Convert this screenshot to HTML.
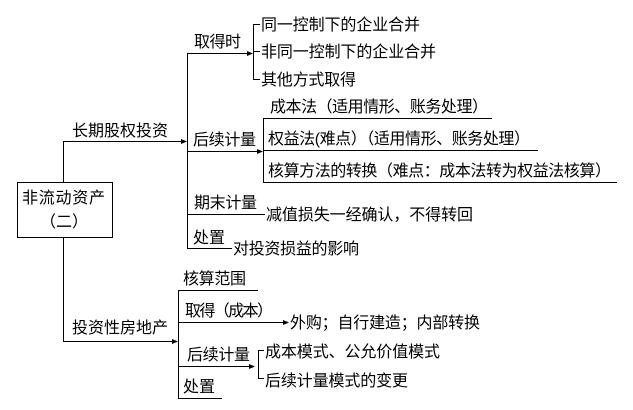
<!DOCTYPE html>
<html><head><meta charset="utf-8"><style>
html,body{margin:0;padding:0;background:#fff;}
svg{display:block;}
text{font-family:"Liberation Sans","Noto Sans CJK SC","WenQuanYi Zen Hei",sans-serif;font-size:16px;fill:#000;}
</style></head><body>
<svg width="633" height="410" viewBox="0 0 633 410" xmlns="http://www.w3.org/2000/svg">
<defs><marker id="a" markerWidth="6" markerHeight="6" refX="5" refY="3" orient="auto" markerUnits="userSpaceOnUse"><path d="M0,0.5 L6,3 L0,5.5z" fill="#000"/></marker></defs>
<g stroke="#000" stroke-width="1" fill="none" shape-rendering="crispEdges">
<rect x="17.5" y="182.5" width="95" height="55"/>
<polyline points="63.5,182 63.5,141.5 186,141.5" marker-end="url(#a)"/>
<polyline points="63.5,238 63.5,341.5 177,341.5" marker-end="url(#a)"/>
<line x1="187.5" y1="53" x2="187.5" y2="248.5"/>
<line x1="187" y1="53.5" x2="252" y2="53.5" marker-end="url(#a)"/>
<line x1="187" y1="151.5" x2="262" y2="151.5" marker-end="url(#a)"/>
<line x1="187" y1="214.5" x2="265" y2="214.5"/>
<line x1="187" y1="248.5" x2="232" y2="248.5"/>
<polyline points="260,24.5 253.5,24.5 253.5,79.5 260,79.5"/>
<line x1="253" y1="51.5" x2="260" y2="51.5"/>
<line x1="263.5" y1="118" x2="263.5" y2="182.5"/>
<line x1="263" y1="118.5" x2="492" y2="118.5"/>
<line x1="263" y1="150.5" x2="538" y2="150.5"/>
<line x1="263" y1="182.5" x2="617" y2="182.5"/>
<line x1="178.5" y1="290" x2="178.5" y2="398.5"/>
<line x1="178" y1="290.5" x2="258" y2="290.5"/>
<line x1="178" y1="322.5" x2="288" y2="322.5" marker-end="url(#a)"/>
<line x1="178" y1="366.5" x2="254" y2="366.5" marker-end="url(#a)"/>
<line x1="178" y1="398.5" x2="222" y2="398.5"/>
<polyline points="264,350.5 258.5,350.5 258.5,378.5 264,378.5"/>
</g>
<text x="22" y="203" textLength="83">非流动资产</text>
<text x="40" y="227">（二）</text>
<text x="72" y="136" textLength="96">长期股权投资</text>
<text x="194" y="47" textLength="47">取得时</text>
<text x="261" y="30" textLength="159">同一控制下的企业合并</text>
<text x="261" y="57" textLength="175">非同一控制下的企业合并</text>
<text x="261" y="85" textLength="95">其他方式取得</text>
<text x="270" y="112" textLength="218">成本法（适用情形、账务处理）</text>
<text x="193" y="145" textLength="63">后续计量</text>
<text x="268" y="144" textLength="262">权益法(难点）（适用情形、账务处理）</text>
<text x="268" y="176" textLength="343">核算方法的转换（难点：成本法转为权益法核算）</text>
<text x="194" y="208" textLength="63">期末计量</text>
<text x="266" y="220" textLength="207">减值损失一经确认，不得转回</text>
<text x="193" y="243" textLength="32">处置</text>
<text x="233" y="254" textLength="126">对投资损益的影响</text>
<text x="72" y="333" textLength="96">投资性房地产</text>
<text x="183" y="284" textLength="63">核算范围</text>
<text x="185" y="316" textLength="88">取得（成本）</text>
<text x="290" y="328" textLength="190">外购；自行建造；内部转换</text>
<text x="187" y="360" textLength="63">后续计量</text>
<text x="265" y="357" textLength="175">成本模式、公允价值模式</text>
<text x="265" y="386" textLength="143">后续计量模式的变更</text>
<text x="183" y="392" textLength="32">处置</text>
</svg>
</body></html>
